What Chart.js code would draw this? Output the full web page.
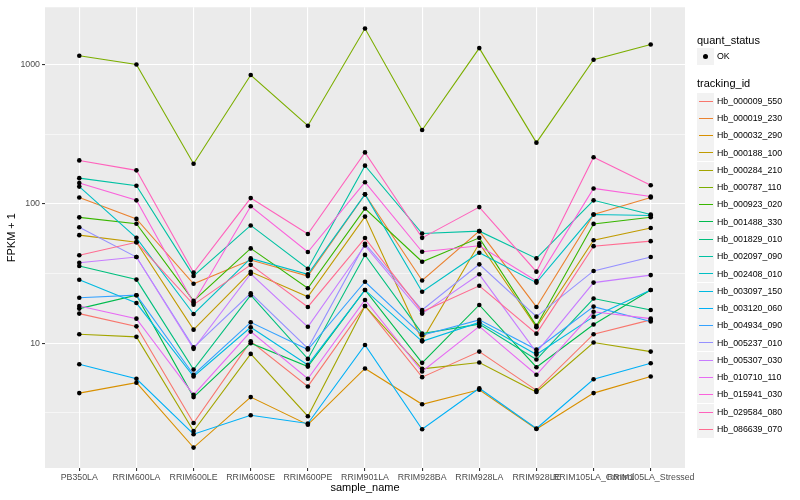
<!DOCTYPE html>
<html>
<head>
<meta charset="utf-8">
<script src="https://cdn.jsdelivr.net/npm/chart.js@4.4.1/dist/chart.umd.min.js"></script>
<style>
  body { margin: 0; background: #fff; }
  #marco { position: relative; width: 800px; height: 500px; font-family: "Liberation Sans", Arial, sans-serif; }
  #grafica { position: absolute; left: 0; top: 0; }
  .leyenda { position: absolute; white-space: nowrap; color: #000; }
  .caja { position: absolute; width: 17px; height: 17px; background: #F2F2F2; }
</style>
</head>
<body>
<div id="marco">
  <canvas id="grafica" width="800" height="500"></canvas>
</div>
<script>
// Muestras (eje x)
const sampleNames = ['PB350LA', 'RRIM600LA', 'RRIM600LE', 'RRIM600SE', 'RRIM600PE', 'RRIM901LA',
  'RRIM928BA', 'RRIM928LA', 'RRIM928LE', 'RRIM105LA_Control', 'RRIM105LA_Stressed'];

// Genes (series)
const trackingIds = ['Hb_000009_550', 'Hb_000019_230', 'Hb_000032_290', 'Hb_000188_100', 'Hb_000284_210',
  'Hb_000787_110', 'Hb_000923_020', 'Hb_001488_330', 'Hb_001829_010', 'Hb_002097_090',
  'Hb_002408_010', 'Hb_003097_150', 'Hb_003120_060', 'Hb_004934_090', 'Hb_005237_010',
  'Hb_005307_030', 'Hb_010710_110', 'Hb_015941_030', 'Hb_029584_080', 'Hb_086639_070'];

const seriesColors = ['#F8766D', '#EA8331', '#D89000', '#C09B00', '#A3A500', '#7CAE00', '#39B600', '#00BB4E',
  '#00BF7D', '#00C1A3', '#00BFC4', '#00BAE0', '#00B0F6', '#35A2FF', '#9590FF', '#C77CFF',
  '#E76BF3', '#FA62DB', '#FF62BC', '#FF6C91'];

// FPKM + 1 por muestra
const hb_000009_550 = [16.3, 13.2, 2.67, 10.3, 4.89, 18.5, 5.7, 8.7, 4.58, 11.6, 14.7];
const hb_000019_230 = [111, 78, 26.7, 39.5, 30.3, 117, 28.2, 63.7, 18.2, 83.8, 111];
const hb_000032_290 = [4.38, 5.2, 1.78, 4.1, 2.6, 6.58, 3.64, 4.63, 2.42, 4.38, 5.77];
const hb_000188_100 = [59.6, 53, 12.5, 32.5, 21.5, 81, 10.5, 52, 13.0, 54.8, 67.1];
const hb_000284_210 = [11.6, 11.1, 2.34, 8.37, 2.99, 18.5, 6.54, 7.26, 4.46, 10.1, 8.7];
const hb_000787_110 = [1156, 1002, 194, 841, 364, 1814, 339, 1312, 275, 1082, 1394];
const hb_000923_020 = [80, 72, 20.1, 47.9, 24.8, 92.5, 38.4, 57, 13.3, 71.8, 80.2];
const hb_001488_330 = [17.7, 22.1, 4.1, 10.0, 6.79, 24.1, 7.22, 18.8, 6.72, 13.6, 24.1];
const hb_001829_010 = [35.8, 28.6, 6.47, 22.1, 7.71, 43, 11.7, 13.7, 7.63, 20.9, 17.3];
const hb_002097_090 = [153, 135, 30.4, 70, 34.2, 188, 61.2, 63.7, 40.6, 106, 83.8];
const hb_002408_010 = [133, 57, 16.2, 40.6, 31.2, 117, 23.4, 44.6, 27.2, 83.8, 82.5];
const hb_003097_150 = [28.5, 19.4, 5.76, 13.0, 6.98, 24.1, 10.3, 14.1, 8.28, 15.5, 24.1];
const hb_003120_060 = [7.06, 5.55, 2.22, 3.04, 2.65, 9.7, 2.41, 4.75, 2.44, 5.51, 7.18];
const hb_004934_090 = [21.2, 22.1, 5.93, 14.1, 9.0, 27.6, 11.4, 14.7, 9.0, 18.3, 14.3];
const hb_005237_010 = [68, 41.5, 9.33, 22.8, 9.18, 51.7, 17.3, 36.8, 15.5, 33, 41.5];
const hb_005307_030 = [37.8, 41.5, 9.1, 31.5, 13.1, 50.2, 16.3, 31.2, 8.6, 27.2, 30.8];
const hb_010710_110 = [18.5, 15.0, 4.26, 12.1, 5.55, 20.4, 6.26, 13.2, 5.93, 16.8, 15.0];
const hb_015941_030 = [141, 106, 19.5, 96, 45.1, 143, 45.3, 50, 27.9, 129, 113];
const hb_029584_080 = [205, 174, 32.1, 110, 60.8, 234, 57, 94.8, 32.6, 216, 136];
const hb_086639_070 = [42.8, 53, 18.9, 36.5, 18.2, 56.8, 16.8, 25.8, 11.7, 49.7, 54];

const fpkm = [hb_000009_550, hb_000019_230, hb_000032_290, hb_000188_100, hb_000284_210,
  hb_000787_110, hb_000923_020, hb_001488_330, hb_001829_010, hb_002097_090,
  hb_002408_010, hb_003097_150, hb_003120_060, hb_004934_090, hb_005237_010,
  hb_005307_030, hb_010710_110, hb_015941_030, hb_029584_080, hb_086639_070];

// Marcas del eje y (las menores sin texto)
const yMajor = [10, 100, 1000];
const yMinor = [3.1623, 31.623, 316.23];

const fuente = '"Liberation Sans", Arial, sans-serif';

// Puntos {x, y} a partir del índice de la muestra
const aPuntos = (valores) => valores.map((v, i) => ({ x: i, y: v }));

const datasets = [];
fpkm.forEach((valores, i) => {
    datasets.push({
        label: trackingIds[i],
        data: aPuntos(valores),
        borderColor: seriesColors[i],
        borderWidth: 1.1,
        pointRadius: 0,
        fill: false,
        order: fpkm.length - i
    });
});
// Puntos negros (quant_status = OK) encima de todo
fpkm.forEach((valores, i) => {
    datasets.push({
        label: 'OK',
        data: aPuntos(valores),
        showLine: false,
        pointRadius: 2.3,
        pointBackgroundColor: '#000',
        pointBorderWidth: 0,
        order: -1
    });
});

// Fondo gris del panel
const fondoPanel = {
    id: 'fondoPanel',
    beforeDraw(chart) {
        const { ctx, chartArea: a } = chart;
        ctx.save();
        ctx.fillStyle = '#EBEBEB';
        ctx.fillRect(a.left, a.top, a.right - a.left, a.bottom - a.top);
        ctx.restore();
    }
};

const ctx = document.getElementById('grafica').getContext('2d');
new Chart(ctx, {
    type: 'line',
    data: { datasets },
    plugins: [fondoPanel],
    options: {
        responsive: false,
        animation: false,
        events: [],
        layout: { padding: { top: 5, right: 115, left: 0, bottom: 0 } },
        plugins: { legend: { display: false }, tooltip: { enabled: false } },
        scales: {
            x: {
                type: 'linear',
                min: -0.6,
                max: sampleNames.length - 1 + 0.6,
                afterBuildTicks: (scale) => { scale.ticks = sampleNames.map((_, i) => ({ value: i })); },
                afterFit: (scale) => { scale.height = 32; },
                border: { display: false },
                grid: { color: '#FFFFFF', lineWidth: 1.1, tickColor: '#333333', tickLength: 3 },
                ticks: {
                    autoSkip: false, maxRotation: 0, minRotation: 0, padding: 1,
                    color: '#4D4D4D', font: { family: fuente, size: 8.8 },
                    callback: (v) => sampleNames[v]
                },
                title: { display: true, text: 'sample_name', color: '#000', font: { family: fuente, size: 11 }, padding: { top: 0, bottom: 5 } }
            },
            y: {
                type: 'logarithmic',
                min: 1.27,
                max: 2577,
                afterBuildTicks: (scale) => {
                    scale.ticks = yMajor.concat(yMinor).sort((a, b) => a - b).map(v => ({ value: v }));
                },
                afterFit: (scale) => { scale.width = 45; },
                border: { display: false },
                grid: {
                    color: '#FFFFFF',
                    lineWidth: (c) => yMajor.includes(c.tick.value) ? 1.1 : 0.55,
                    tickColor: (c) => yMajor.includes(c.tick.value) ? '#333333' : 'rgba(0,0,0,0)',
                    tickLength: 3
                },
                ticks: {
                    padding: 2, color: '#4D4D4D', font: { family: fuente, size: 8.8 },
                    callback: (v) => yMajor.includes(v) ? String(v) : ''
                },
                title: { display: true, text: 'FPKM + 1', color: '#000', font: { family: fuente, size: 11 }, padding: { top: 5, bottom: 0 } }
            }
        }
    }
});

// Leyenda a la derecha, como en ggplot
const marco = document.getElementById('marco');
function texto(t, x, yCentro, tam) {
    const d = document.createElement('div');
    d.className = 'leyenda';
    d.textContent = t;
    d.style.left = x + 'px';
    d.style.top = (yCentro - tam * 0.6) + 'px';
    d.style.fontSize = tam + 'px';
    d.style.lineHeight = (tam * 1.2) + 'px';
    marco.appendChild(d);
}
function caja(yCentro) {
    const c = document.createElement('div');
    c.className = 'caja';
    c.style.left = '697px';
    c.style.top = (yCentro - 8.5) + 'px';
    marco.appendChild(c);
    return c;
}

texto('quant_status', 697, 40.5, 11);
const cajaOk = caja(56.7);
const punto = document.createElement('div');
punto.style.cssText = 'position:absolute;left:6px;top:6px;width:5px;height:5px;border-radius:2.5px;background:#000;';
cajaOk.appendChild(punto);
texto('OK', 717, 56.7, 8.8);

texto('tracking_id', 697, 84, 11);
trackingIds.forEach((id, i) => {
    const yc = 101 + i * 17.28;
    const c = caja(yc);
    const linea = document.createElement('div');
    linea.style.cssText = 'position:absolute;left:1.5px;top:8px;width:14px;height:1px;background:' + seriesColors[i] + ';';
    c.appendChild(linea);
    texto(id, 717, yc, 8.8);
});
</script>
</body>
</html>
